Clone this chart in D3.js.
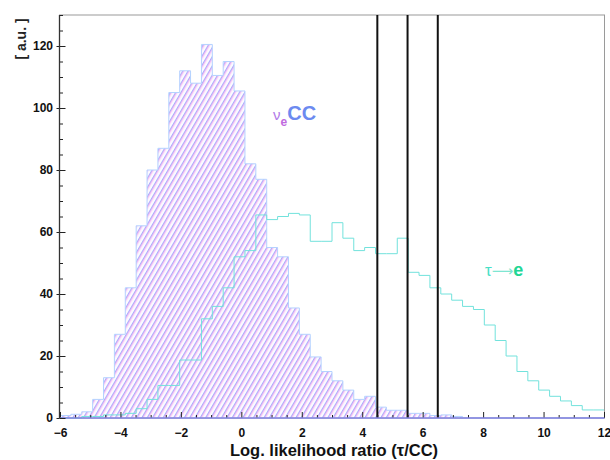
<!DOCTYPE html>
<html>
<head>
<meta charset="utf-8">
<script src="https://cdn.jsdelivr.net/npm/d3@7"></script>
<style>
  html, body { margin: 0; padding: 0; background: #ffffff; }
  svg { display: block; }
  text { font-family: "Liberation Sans", Arial, Helvetica, sans-serif; }
</style>
</head>
<body>
<svg id="chart" width="610" height="460"></svg>
<script>
// Histogram binning: 50 bins over the log-likelihood ratio range [-6, 12]
const binLow = -6;
const binHigh = 12;
const binCount = 50;

// Events per bin, nu_e CC (hatched)
const nueCC = [
  0.8, 1.2, 2, 6, 13, 27, 42, 62, 80, 87,
  105, 112, 108, 120.5, 110.5, 115, 105.5, 82, 77, 55,
  52, 35.5, 27, 19.7, 15, 12, 9, 6, 7, 3.5,
  2.5, 2.5, 1.5, 1.5, 0.8, 1, 0.5, 0, 0, 0,
  0, 0, 0, 0, 0, 0, 0, 0, 0, 0
];

// Events per bin, tau -> e (outline)
const tauE = [
  0, 0, 0.5, 0.5, 1, 1, 1.5, 3, 6, 10.5,
  10.5, 18.7, 18.7, 32, 36, 42, 52, 54, 65.5, 64,
  65, 66, 65.5, 57, 57, 63, 58, 54, 55, 53,
  53, 58, 47, 46, 42, 40, 38, 36, 35, 30,
  25, 20, 15, 12, 9, 7, 5.5, 4, 2.6, 2.6
];

// Cut positions marked on the plot
const cutValues = [4.5, 5.5, 6.5];

// Axis ticks
const xMajorTicks = [-6, -4, -2, 0, 2, 4, 6, 8, 10, 12];
const yMajorTicks = [0, 20, 40, 60, 80, 100, 120];

const svg = d3.select("#chart");

const x = d3.scaleLinear().domain([binLow, binHigh]).range([60, 604]);
const y = d3.scaleLinear().domain([0, 130]).range([418, 15]);

const binWidth = (binHigh - binLow) / binCount;
const edges = d3.range(binCount + 1).map(i => binLow + i * binWidth);

function stepPoints(values) {
  const pts = values.map((v, i) => [edges[i], v]);
  pts.push([edges[binCount], values[binCount - 1]]);
  return pts;
}

// Diagonal two-colour hatch
const defs = svg.append("defs");
const pat = defs.append("pattern")
  .attr("id", "hatch")
  .attr("patternUnits", "userSpaceOnUse")
  .attr("width", 4.6)
  .attr("height", 10)
  .attr("patternTransform", "rotate(30)");
pat.append("rect").attr("width", 4.6).attr("height", 10).attr("fill", "#fcfaff");
pat.append("rect").attr("x", 0).attr("width", 1.1).attr("height", 10).attr("fill", "#aab0fb");
pat.append("rect").attr("x", 1.1).attr("width", 1.0).attr("height", 10).attr("fill", "#f2aef2");

// Plot frame
svg.append("rect")
  .attr("x", 59.5).attr("y", 15)
  .attr("width", 604.5 - 59.5).attr("height", 418 - 15)
  .attr("fill", "none")
  .attr("stroke", "#9a9a9a")
  .attr("stroke-width", 1);

// nu_e CC histogram
const area = d3.area()
  .x(d => x(d[0]))
  .y0(y(0))
  .y1(d => y(d[1]))
  .curve(d3.curveStepAfter);

svg.append("path")
  .datum(stepPoints(nueCC))
  .attr("d", area)
  .attr("fill", "url(#hatch)")
  .attr("stroke", "#b4d2ff")
  .attr("stroke-width", 1);

// tau -> e histogram
const line = d3.line()
  .x(d => x(d[0]))
  .y(d => y(d[1]))
  .curve(d3.curveStepAfter);

svg.append("path")
  .datum(stepPoints(tauE))
  .attr("d", line)
  .attr("fill", "none")
  .attr("stroke", "#72e2dc")
  .attr("stroke-width", 1);

// Cut lines
svg.selectAll("line.cut")
  .data(cutValues)
  .join("line")
  .attr("class", "cut")
  .attr("x1", d => x(d)).attr("x2", d => x(d))
  .attr("y1", y(0)).attr("y2", y(130))
  .attr("stroke", "#111")
  .attr("stroke-width", 2);

// X axis
const xMinor = d3.range(binLow, binHigh + 0.001, 0.5).filter(v => !xMajorTicks.includes(v));

const gxMinor = svg.append("g")
  .attr("transform", `translate(0,${y(0)})`)
  .call(d3.axisBottom(x).tickValues(xMinor).tickSize(-3).tickFormat(""));
gxMinor.select(".domain").remove();

const gx = svg.append("g")
  .attr("transform", `translate(0,${y(0)})`)
  .call(d3.axisBottom(x).tickValues(xMajorTicks).tickSize(-6).tickPadding(10.5).tickFormat(d3.format("d")));
gx.select(".domain").remove();
gx.selectAll("text")
  .attr("font-size", 12)
  .attr("font-weight", "bold")
  .attr("fill", "#111");

svg.selectAll(".tick line").attr("stroke", "#222");

// Baseline
svg.append("line")
  .attr("x1", 59.5).attr("x2", 604.5)
  .attr("y1", y(0)).attr("y2", y(0))
  .attr("stroke", "#8482dc")
  .attr("stroke-width", 1.3);

// Y axis
const yMinor = d3.range(0, 130.001, 5).filter(v => !yMajorTicks.includes(v));

const gyMinor = svg.append("g")
  .attr("transform", "translate(59.5,0)")
  .call(d3.axisLeft(y).tickValues(yMinor).tickSize(-3.5).tickFormat(""));
gyMinor.select(".domain").remove();

const gyOut = svg.append("g")
  .attr("transform", "translate(59.5,0)")
  .call(d3.axisLeft(y).tickValues(yMajorTicks).tickSize(3).tickFormat(""));
gyOut.select(".domain").remove();

const gy = svg.append("g")
  .attr("transform", "translate(59.5,0)")
  .call(d3.axisLeft(y).tickValues(yMajorTicks).tickSize(-6).tickPadding(6.5).tickFormat(d3.format("d")));
gy.select(".domain").remove();
gy.selectAll("text")
  .attr("font-size", 12)
  .attr("font-weight", "bold")
  .attr("fill", "#111");

svg.selectAll(".tick line").attr("stroke", "#222");

svg.append("line")
  .attr("x1", 59.5).attr("x2", 59.5)
  .attr("y1", 15).attr("y2", y(0))
  .attr("stroke", "#333")
  .attr("stroke-width", 1.3);

// Axis titles
svg.append("text")
  .attr("x", 334).attr("y", 456)
  .attr("text-anchor", "middle")
  .attr("font-size", 16.5)
  .attr("font-weight", "bold")
  .attr("fill", "#111")
  .text("Log. likelihood ratio (τ/CC)");

svg.append("text")
  .attr("transform", "translate(26,39) rotate(-90)")
  .attr("text-anchor", "middle")
  .attr("font-size", 14)
  .attr("font-weight", "bold")
  .attr("fill", "#222")
  .text("[ a.u. ]");

// Series labels
const lab1 = svg.append("text").attr("x", 273).attr("y", 120);
lab1.append("tspan").attr("font-size", 15).attr("fill", "#b27ae8").text("ν");
lab1.append("tspan").attr("font-size", 12).attr("font-weight", "bold").attr("dy", 6).attr("fill", "#c06ae0").text("e");
lab1.append("tspan").attr("font-size", 20).attr("font-weight", "bold").attr("dy", -6).attr("fill", "#6c8af0").text("CC");

const lab2 = svg.append("text").attr("x", 485).attr("y", 276);
lab2.append("tspan").attr("font-size", 17).attr("fill", "#47e0c6").text("τ");
lab2.append("tspan").attr("font-size", 15).attr("fill", "#7fe6d2")
  .style("font-family", "'DejaVu Sans', sans-serif").text("⟶");
lab2.append("tspan").attr("font-size", 18).attr("font-weight", "bold").attr("fill", "#22d694").text("e");
</script>
</body>
</html>
